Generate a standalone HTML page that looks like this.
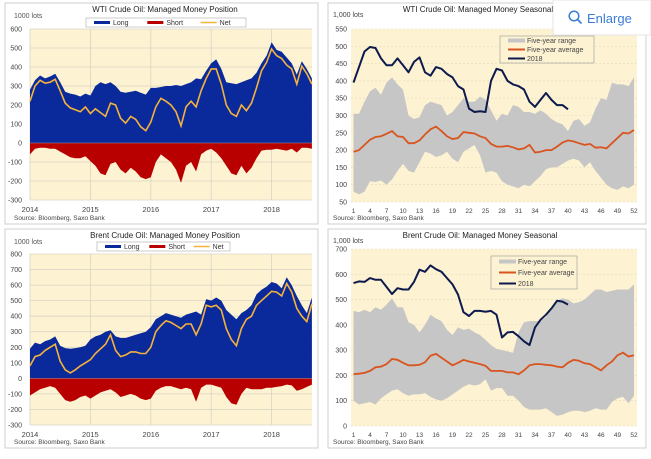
<!DOCTYPE html>
<html><head><meta charset="utf-8"><style>
body{margin:0;background:#fff;width:651px;height:454px;overflow:hidden;font-family:"Liberation Sans",sans-serif}
svg text{font-family:"Liberation Sans",sans-serif}
</style></head><body>
<svg id="s" width="651" height="454" viewBox="0 0 651 454" xmlns="http://www.w3.org/2000/svg"></svg>
<script>
// WTI position (monthly, Jan 2014 - Sep 2018)
const wtiLong=[280,330,355,340,350,365,320,270,260,255,245,260,250,300,320,310,320,300,270,265,270,275,265,255,290,290,295,300,300,305,300,310,320,340,335,380,420,440,390,320,315,310,320,330,340,370,420,460,530,490,480,450,420,360,430,390,340];
const wtiShort=[-60,-30,-25,-25,-30,-30,-45,-60,-75,-80,-80,-70,-95,-120,-160,-170,-110,-100,-140,-160,-130,-150,-180,-190,-180,-100,-60,-80,-100,-140,-210,-120,-100,-150,-60,-40,-30,-50,-80,-120,-160,-170,-120,-160,-130,-80,-40,-35,-35,-30,-35,-40,-30,-50,-25,-25,-30];
const wtiNet=[220,300,330,315,320,335,275,210,185,175,165,190,155,180,160,140,210,200,130,105,140,125,85,65,110,190,235,220,200,165,90,190,220,190,275,340,390,390,310,200,155,140,200,170,210,290,380,425,495,460,445,410,390,310,405,365,310];
// Brent position
const brLong=[190,230,220,240,250,270,210,195,190,195,200,210,250,270,280,300,310,270,260,260,270,280,290,300,330,380,400,420,410,400,390,410,420,430,410,510,500,520,500,440,410,380,420,440,470,540,570,590,620,610,580,650,600,530,470,420,520];
const brShort=[-110,-90,-70,-60,-50,-60,-100,-140,-150,-140,-120,-110,-130,-110,-90,-80,-70,-90,-120,-110,-100,-110,-130,-140,-130,-80,-60,-50,-50,-60,-70,-60,-70,-150,-60,-40,-40,-50,-60,-120,-160,-170,-100,-60,-70,-70,-70,-60,-60,-55,-50,-40,-45,-80,-70,-55,-40];
const brNet=[80,140,150,180,200,220,110,55,35,55,80,100,120,160,190,220,280,180,140,150,170,170,160,160,200,300,340,370,360,340,320,350,350,280,350,470,460,470,440,320,250,210,320,380,400,470,500,530,560,555,530,610,555,450,400,365,480];
const yearLabels=["2014","2015","2016","2017","2018"];
// WTI seasonal (weeks 1-52)
const wtiHi=[305,305,340,370,380,360,395,410,390,375,300,290,295,330,340,335,330,300,310,330,350,340,340,355,345,315,285,305,300,330,325,310,310,305,315,305,290,280,275,255,285,290,270,280,320,350,345,395,390,390,385,410];
const wtiLo=[80,72,80,110,108,112,100,115,140,160,140,135,165,195,190,180,185,195,175,165,195,205,215,185,135,140,135,110,100,95,90,100,95,110,125,145,150,150,160,170,175,170,150,165,140,120,100,90,85,95,90,100];
const wtiAvg=[195,200,215,230,238,240,247,255,240,238,220,220,228,245,260,268,255,240,232,235,252,250,248,240,235,218,210,210,212,208,202,205,215,193,195,200,200,210,222,228,225,220,215,218,207,208,205,220,235,250,248,258];
const wti2018=[395,440,485,498,495,465,445,445,465,445,425,455,468,425,415,440,435,420,410,385,375,320,310,312,310,400,435,430,400,390,385,375,340,325,345,365,345,330,330,318];
// Brent seasonal
const brHi=[455,450,460,450,470,460,480,505,470,470,410,400,370,400,440,425,415,380,360,390,380,385,370,360,340,320,305,300,295,290,370,410,415,415,415,430,470,495,505,500,485,490,500,520,540,540,530,535,540,540,540,560];
const brLo=[100,85,90,95,85,110,125,140,145,130,120,125,125,130,115,105,100,110,125,140,155,165,160,165,185,140,150,150,120,120,100,75,65,65,65,70,55,40,45,55,60,60,55,60,70,65,65,95,110,115,90,120];
const brAvg=[205,207,210,218,232,235,245,265,262,250,240,240,242,252,278,285,270,255,240,250,262,255,250,245,238,218,218,218,212,212,205,220,240,245,245,242,240,235,232,250,262,258,248,245,232,220,240,255,280,290,275,280];
const br2018=[565,572,570,585,578,578,550,522,545,540,540,570,618,610,635,620,610,585,560,520,450,435,455,455,452,455,440,350,370,372,355,335,320,390,420,440,465,495,492,480];
const weekTicks=[1,4,7,10,13,16,19,22,25,28,31,34,37,40,43,46,49,52];

const S=document.getElementById('s');const NS="http://www.w3.org/2000/svg";
function el(t,a,p){const e=document.createElementNS(NS,t);for(const k in a)e.setAttribute(k,a[k]);(p||S).appendChild(e);return e;}
function txt(x,y,s,size,anchor,fill,p){const e=el('text',{x:x,y:y,'font-size':size,'text-anchor':anchor||'start',fill:fill||'#333'},p);e.textContent=s;return e;}

function posChart(cfg){
  const g=el('g',{});
  
  
  const b=el('rect',{x:cfg.bx,y:cfg.by,width:313,height:cfg.bh,fill:'#fff',stroke:'#cfcfcf'},g);
  
  const X0=30,X1=312,xs=60.4;
  const yv=v=>cfg.y0+(cfg.ymax-v)/(cfg.ymax-cfg.ymin)*(cfg.y1-cfg.y0);
  const xt=i=>X0+(i/12)*xs;
  const bg=el('rect',{x:X0,y:cfg.y0,width:X1-X0,height:cfg.y1-cfg.y0,fill:'#fdf2d2'},g);
  
  for(let v=cfg.ymin;v<=cfg.ymax;v+=100){
    const l=el('line',{x1:X0,x2:X1,y1:yv(v),y2:yv(v),stroke:'#d9d4c4','stroke-width':0.8},g);
    
    const t=txt(22,yv(v)+2.5,String(v),7,'end','#444',g);
    
  }
  yearLabels.forEach((s,i)=>{
    const x=X0+i*xs;
    const l=el('line',{x1:x,x2:x,y1:cfg.y0,y2:cfg.y1,stroke:'#d9d4c4','stroke-width':0.8},g);
    
    const t=txt(x,cfg.y1+12,s,7.5,'middle','#444',g);
    
  });
  const z=yv(0);
  function area(arr,color,nm){
    let d='M'+X0+','+z;arr.forEach((v,i)=>{d+=' L'+xt(i).toFixed(1)+','+yv(v).toFixed(1);});
    d+=' L'+xt(arr.length-1).toFixed(1)+','+z+' Z';
    const p=el('path',{d:d,fill:color},g);
    
  }
  area(cfg.long,'#0a2a9c','long-area');
  area(cfg.short,'#b80000','short-area');
  const pts=cfg.net.map((v,i)=>xt(i).toFixed(1)+','+yv(v).toFixed(1)).join(' ');
  const nl=el('polyline',{points:pts,fill:'none',stroke:'#f5b23c','stroke-width':1.6},g);
  
  const zl=el('line',{x1:X0,x2:X1,y1:z,y2:z,stroke:'#999','stroke-width':0.6},g);
  
  const ti=txt(165,cfg.by+9,cfg.title,8,'middle','#222',g);
  
  const un=txt(14,cfg.by+15,'1000 lots',7,'start','#555',g);
  
  const lg=el('g',{},g);
  const lx=cfg.lx,ly=cfg.by+cfg.ly;
  el('rect',{x:lx,y:ly,width:cfg.lw,height:9,fill:'#fff',stroke:'#aaa','stroke-width':0.6},lg);
  const step=cfg.lw/3;
  [['Long','#0a2a9c',3],['Short','#b80000',3],['Net','#f5b23c',1.5]].forEach((e,i)=>{
    const ex=lx+8+i*step;
    const sw=el('rect',{x:ex,y:ly+4.5-e[2]/2,width:16,height:e[2],fill:e[1]},lg);
    
    const t=txt(ex+19,ly+7,e[0],7,'start','#333',lg);
    
  });
  const so=txt(14,cfg.by+cfg.bh-4,'Source: Bloomberg, Saxo Bank',6.5,'start','#444',g);
  
}
function seasChart(cfg){
  const g=el('g',{});
  
  
  const b=el('rect',{x:328,y:cfg.by,width:318,height:cfg.bh,fill:'#fff',stroke:'#cfcfcf'},g);
  
  const X0=351,X1=637,W1=353.5,W52=634;
  const xw=w=>W1+(w-1)*(W52-W1)/51;
  const yv=v=>cfg.y0+(cfg.ymax-v)/(cfg.ymax-cfg.ymin)*(cfg.y1-cfg.y0);
  const bg=el('rect',{x:X0,y:cfg.y0,width:X1-X0,height:cfg.y1-cfg.y0,fill:'#fdf2d2'},g);
  
  for(let v=cfg.ymin;v<=cfg.ymax;v+=cfg.step){
    const l=el('line',{x1:X0,x2:X1,y1:yv(v),y2:yv(v),stroke:'#e6dcc0','stroke-width':0.6,'stroke-dasharray':'2,2'},g);
    
    const t=txt(347,yv(v)+2.5,String(v),7,'end','#444',g);
    
  }
  weekTicks.forEach(w=>{
    const t=txt(xw(w),cfg.y1+11,String(w),6.5,'middle','#444',g);
    
  });
  let d='M'+cfg.hi.map((v,i)=>xw(i+1).toFixed(1)+','+yv(v).toFixed(1)).join(' L');
  for(let i=cfg.lo.length-1;i>=0;i--)d+=' L'+xw(i+1).toFixed(1)+','+yv(cfg.lo[i]).toFixed(1);
  const r=el('path',{d:d+' Z',fill:'#c6c6c6'},g);
  
  const a=el('polyline',{points:cfg.avg.map((v,i)=>xw(i+1).toFixed(1)+','+yv(v).toFixed(1)).join(' '),fill:'none',stroke:'#d9541e','stroke-width':1.8},g);
  
  const c=el('polyline',{points:cfg.cur.map((v,i)=>xw(i+1).toFixed(1)+','+yv(v).toFixed(1)).join(' '),fill:'none',stroke:'#0d1a4d','stroke-width':2,'stroke-linejoin':'round'},g);
  
  const ti=txt(cfg.tx,cfg.by+9,cfg.title,8,'middle','#222',g);
  
  const un=txt(333,cfg.by+14,'1,000 lots',7,'start','#444',g);
  
  const lg=el('g',{},g);
  el('rect',{x:cfg.lx,y:cfg.ly,width:cfg.lw,height:cfg.lh,fill:'#fdf2d2',stroke:'#999','stroke-width':0.6},lg);
  const sp=cfg.lh/3;
  [['Five-year range','#c6c6c6',4,'legend-entry-range'],['Five-year average','#d9541e',2,'legend-entry-average'],['2018','#0d1a4d',2,'legend-entry-2018']].forEach((e,i)=>{
    const yy=cfg.ly+sp*(i+0.5);
    el('rect',{x:cfg.lx+8,y:yy-e[2]/2,width:17,height:e[2],fill:e[1]},lg);
    const t=txt(cfg.lx+27,yy+2.5,e[0],7,'start','#444',lg);
    
  });
  const so=txt(333,cfg.by+cfg.bh-4,'Source: Bloomberg, Saxo Bank',6.5,'start','#444',g);
  
}
posChart({name:'wti-position-chart',bx:5,by:3,bh:221,y0:29,y1:200,ymin:-300,ymax:600,long:wtiLong,short:wtiShort,net:wtiNet,title:'WTI Crude Oil: Managed Money Position',lx:86,ly:15,lw:160});
seasChart({name:'wti-seasonal-chart',by:3,bh:221,y0:29,y1:202,ymin:50,ymax:550,step:50,hi:wtiHi,lo:wtiLo,avg:wtiAvg,cur:wti2018,title:'WTI Crude Oil: Managed Money Seasonal',tx:478,lx:500,ly:36,lw:94,lh:27});
posChart({name:'brent-position-chart',bx:5,by:229,bh:219,y0:254,y1:425,ymin:-300,ymax:800,long:brLong,short:brShort,net:brNet,title:'Brent Crude Oil: Managed Money Position',lx:97,ly:13,lw:133});
seasChart({name:'brent-seasonal-chart',by:229,bh:219,y0:249,y1:426,ymin:0,ymax:700,step:100,hi:brHi,lo:brLo,avg:brAvg,cur:br2018,title:'Brent Crude Oil: Managed Money Seasonal',tx:480,lx:491,ly:256,lw:86,lh:33});
// Enlarge button
const eb=el('g',{});


el('rect',{x:553,y:0,width:98,height:35,fill:'#fff',stroke:'#e6e6e6'},eb);
el('circle',{cx:574,cy:16,r:4.8,fill:'none',stroke:'#3a7bd5','stroke-width':1.5},eb);
el('line',{x1:577.5,y1:19.5,x2:581.5,y2:23.5,stroke:'#3a7bd5','stroke-width':1.6},eb);
txt(587,23,'Enlarge',13,'start','#3a7bd5',eb);
</script>
</body></html>
